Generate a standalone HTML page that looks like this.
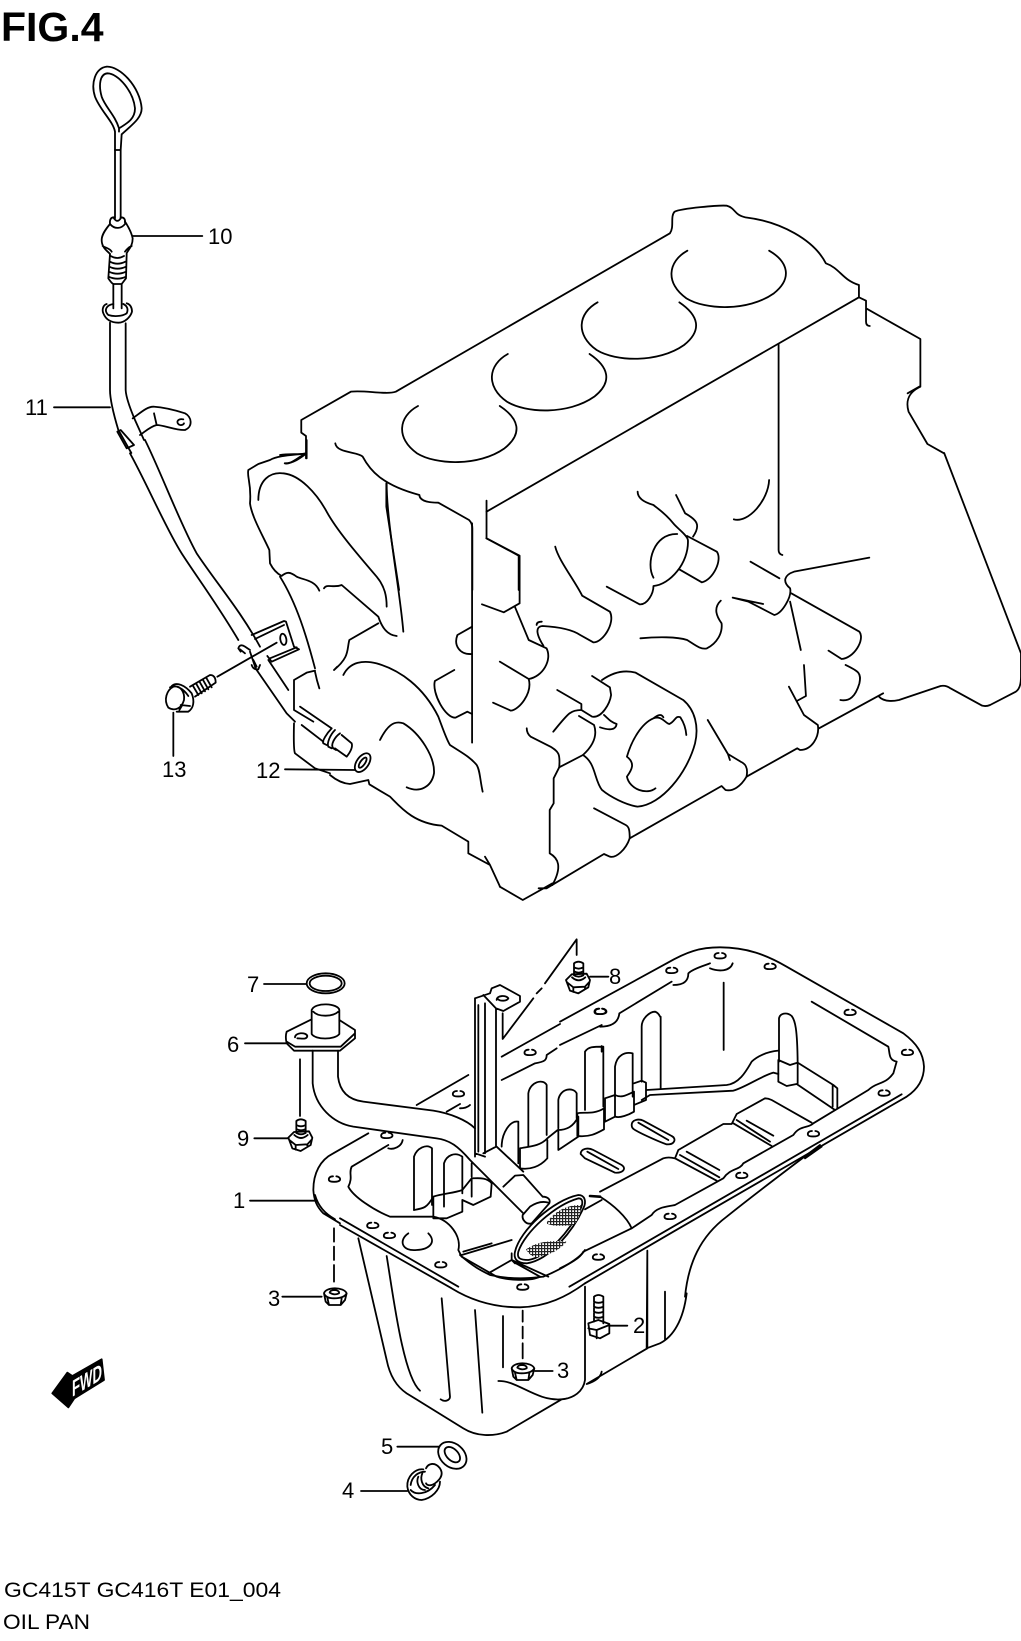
<!DOCTYPE html>
<html><head><meta charset="utf-8"><style>
html,body{margin:0;padding:0;background:#fff}
svg{display:block}
path,ellipse{fill:none;stroke:#000;stroke-width:1.8;vector-effect:non-scaling-stroke;stroke-linecap:round;stroke-linejoin:round}
text{font-family:"Liberation Sans",sans-serif;fill:#000;font-size:22px}
</style></head><body>
<svg width="1021" height="1641" viewBox="0 0 1021 1641" xmlns="http://www.w3.org/2000/svg">
<defs>
<pattern id="m" width="9" height="9" patternUnits="userSpaceOnUse"><rect width="9" height="9" fill="#fff"/><rect width="3.6" height="9" fill="#222"/><rect width="9" height="3.6" fill="#222"/></pattern>
<path id="h" d="M-4 -9C-14 -9 -18 -3 -16 3C-13 9 13 9 17 2C19 -4 12 -9 6 -9"/>
<g id="flb">
<path d="M1062 135V100Q1075 90 1090 100V135M1062 112Q1076 120 1090 112M1062 124Q1076 132 1090 124M1062 136Q1076 144 1090 136"/>
<path d="M1038 150L1055 133L1100 131L1110 150L1105 172L1075 190L1050 182ZM1041 157L1060 172L1095 170L1108 156M1060 172V186M1095 170V178M1056 142Q1076 160 1096 142"/>
</g>
<g id="fln">
<path d="M515 565L520 590L530 600L565 600L578 585L583 565M530 600L525 578M565 600L568 580M515 565Q520 580 545 580Q575 580 583 565M515 565C520 545 575 545 583 565M532 563Q533 555 548 555Q562 557 560 565Q545 572 532 563"/>
</g>
</defs>
<rect width="1021" height="1641" fill="#fff"/>

<!-- dipstick -->
<g transform="translate(0,0) scale(.33333)">
<path d="M345 450V395C340 365 300 330 285 290C272 250 285 205 320 200C360 198 420 260 425 325C425 355 395 375 365 403L362 450"/>
<path d="M357 385C385 368 405 355 405 325C400 275 355 220 322 220C300 222 295 255 305 290C315 320 345 345 357 385L357 395M345 450H362"/>
<path d="M345 450V655M362 450V655"/>
<path d="M330 672Q328 652 342 652M362 652Q377 652 375 668M342 655Q352 670 362 655"/>
<path d="M330 672C315 690 305 705 305 720C305 745 325 755 330 762M375 665C385 680 395 700 398 715C398 740 385 748 380 760M330 672C345 690 365 685 375 672M308 738C320 745 330 745 335 755M395 738C385 742 380 748 375 755"/>
<path d="M330 762L325 835Q335 850 340 852H365L378 835L380 762M332 768Q352 780 372 768M330 785Q352 797 376 785M328 800Q352 812 378 800M327 815Q352 827 378 815M326 830Q352 842 378 830"/>
<path d="M340 852V925M365 852V925"/>
<path d="M320 912C310 915 305 928 310 940C318 960 335 968 355 968C375 968 392 950 396 935C396 922 390 912 380 910M340 912C320 915 310 930 325 945C340 950 365 950 380 940C385 930 383 918 370 912"/>
<path d="M330 968V1170C330 1200 340 1240 355 1290L394 1359M377 970V1170C378 1190 390 1225 405 1260L432 1320"/>
<path d="M352 1295L362 1290L402 1335L380 1345Z"/>
<path d="M398 1255C420 1240 440 1220 460 1220C490 1222 530 1232 555 1240C575 1250 580 1280 555 1290C530 1292 490 1275 470 1275C450 1280 435 1295 420 1305M462 1240L470 1275M550 1258C535 1255 528 1265 535 1272C540 1278 550 1275 552 1270"/>
<path d="M398 708H607M162 1222H330"/>
</g>

<!-- left lower part of block + tube -->
<g transform="translate(130,440) scale(.33333)">
<path d="M45 0C90 90 150 250 200 340C260 430 330 510 390 620M0 40C50 130 110 270 155 340C200 410 260 490 325 600"/>
<path d="M365 585L462 543L468 545L492 620L507 628L425 665L412 648M375 597L462 555M420 655L500 622"/>
<ellipse cx="460" cy="598" rx="9" ry="17" transform="rotate(-10 460 598)"/>
<path d="M530 0V55M530 40C500 45 445 45 420 60L385 72L355 90C350 110 365 130 360 190C365 230 400 290 418 330L420 370C430 390 440 400 455 408C470 395 480 395 500 410C520 420 555 420 568 452M465 70C490 70 510 55 530 40"/>
<path d="M582 445C590 430 610 445 635 435L745 530C755 560 770 585 800 588"/>
<path d="M385 180C385 120 420 95 460 100C510 105 560 160 590 215C620 270 680 340 740 410C765 440 770 470 770 500"/>
<path d="M770 130C770 250 810 450 820 575M745 550L658 600C650 630 660 650 612 690L622 680"/>
<path d="M640 705C660 665 700 660 740 670C810 690 880 740 925 830C940 870 950 900 960 915C990 935 1020 950 1040 975C1050 990 1050 1020 1058 1055"/>
<path d="M450 410C500 490 530 590 555 685M555 695Q560 720 568 745"/>
<path d="M600 1005Q630 1030 660 1032L715 1020L718 1033L780 1070C810 1100 850 1150 935 1157L1015 1205V1240L1080 1275L1110 1340M1065 1250L1080 1275"/>
<path d="M750 900C770 860 790 840 820 850C870 880 915 950 912 1000C905 1040 870 1060 830 1042"/>
</g>

<!-- bolt 13, clip, nipple, washer 12 -->
<g transform="translate(150,610) scale(.33333)">
<path d="M355 150L415 240M320 180L410 310L435 335"/>
<path d="M265 115Q270 100 285 110L300 120M285 130L270 118M265 115L272 125"/>
<path d="M305 165Q310 180 325 178L330 165M310 150L320 170M300 125L318 178"/>
<path d="M70 230C50 240 40 270 55 293C75 305 95 295 102 270C105 245 90 225 70 230M65 228C80 215 105 225 125 250C135 275 130 295 115 305L80 305M97 285L88 300M60 232C75 222 100 235 115 258M92 285L120 288"/>
<path d="M120 230L180 195Q197 195 197 218L135 260M128 226L145 255M138 220L155 250M148 214L165 244M158 208L175 238M168 202L185 232"/>
<path d="M70 308V438M202 200L380 98"/>
<path d="M432 210L470 188L495 182M432 210V300L490 335M432 340Q430 420 435 430L495 475L540 490"/>
<path d="M450 290L545 355M455 345L520 395"/>
<path d="M545 355C530 370 515 395 520 400L530 405M555 360C540 375 530 400 535 410L545 415M570 370C555 380 540 405 550 415L558 420"/>
<path d="M575 375L605 400Q610 415 590 440L555 415"/>
<ellipse cx="638" cy="458" rx="18" ry="32" transform="rotate(35 638 458)"/>
<ellipse cx="638" cy="458" rx="7" ry="18" transform="rotate(35 638 458)"/>
<path d="M405 478L615 480"/>
</g>

<!-- block top -->
<g transform="translate(280,190) scale(.4726,.33333)">
<path d="M55 805V738L45 728V690L150 605C180 600 225 615 245 605L825 130C835 110 825 80 835 65C850 55 930 45 945 47C965 55 960 75 985 82C1060 95 1130 150 1155 220C1185 235 1190 270 1225 285V320"/>
<path d="M437 965L1225 322L1240 332V395Q1240 408 1248 408M1240 355L1355 447V588L1328 610M1355 590C1325 610 1325 640 1330 665L1370 762L1405 790"/>
<path d="M862 182C820 215 815 280 860 325C900 360 990 365 1045 310C1085 265 1075 215 1035 182"/>
<path d="M672 337C630 370 625 435 670 480C710 515 800 520 855 465C895 420 885 375 845 337"/>
<path d="M482 492C440 525 435 590 480 635C520 670 610 675 665 620C705 575 695 530 655 492"/>
<path d="M292 648C250 680 245 745 290 790C330 825 420 830 475 775C515 730 505 685 465 648"/>
<path d="M1055 462V1080Q1055 1092 1063 1095"/>
<path d="M117 760C120 790 165 785 175 800C190 840 215 885 295 915C295 935 320 938 335 938L400 990Q407 1000 407 1015V1200"/>
<path d="M225 880V950L252 1200M437 932V1045L505 1097V1200"/>
<path d="M0 795C20 790 40 795 55 790M10 820C20 825 30 810 55 790"/>
</g>

<!-- block lower right -->
<g transform="translate(400,480) scale(.39604,.33333)">
<path d="M182 130V788"/>
<path d="M218 175L302 227V370L262 397L207 373"/>
<path d="M290 380L325 480L370 505C385 540 360 590 325 597L252 545M325 597C335 640 300 690 280 692L235 668"/>
<path d="M392 200C400 240 440 300 460 347L530 395C545 430 510 490 488 487L455 465C430 445 390 440 360 438C340 440 345 465 362 497M345 435Q345 425 358 425"/>
<path d="M522 320L605 373C625 375 640 340 640 318C680 315 730 250 727 180C725 165 700 145 690 130C670 100 650 85 640 75C610 65 600 50 600 35"/>
<path d="M697 45L720 100C750 120 760 135 740 170M640 293C620 250 640 160 700 162M725 168L800 215C815 240 790 300 762 307L705 268"/>
<path d="M843 118C880 130 930 60 932 0"/>
<path d="M885 245L958 295M1185 233L995 275C970 285 965 305 985 325C990 350 965 400 945 405L880 365L840 353L917 372"/>
<path d="M988 340L1160 455C1175 480 1145 535 1115 537L1082 512M985 365L1012 510M1020 555L1025 648L1002 663"/>
<path d="M982 620L1020 705L1055 735C1060 770 1040 810 1010 810L1003 805L875 890C880 860 870 850 860 845L828 822L777 720M828 822L833 840"/>
<path d="M875 890C860 920 840 935 822 930L812 918L580 1075C580 1050 578 1040 570 1035L490 985"/>
<path d="M580 1075C570 1110 545 1135 530 1130L515 1122L370 1225L350 1225M385 1210L310 1260L252 1220"/>
<path d="M1058 745L1220 640M1208 648C1220 665 1240 665 1260 660L1365 618Q1378 615 1390 625L1470 677Q1480 680 1490 675L1555 635Q1568 625 1568 590V520L1374 -81"/>
<path d="M1125 555C1160 575 1165 580 1160 610C1150 650 1135 665 1112 660"/>
<path d="M607 475C650 470 700 470 725 480C745 495 760 510 775 505C800 490 815 460 812 430C800 410 790 385 810 362"/>
<path d="M397 630L458 672V690L485 710C510 715 530 670 533 645L530 622L485 588"/>
<path d="M510 600C540 575 570 570 595 578L715 660C745 690 755 740 745 790C725 880 660 975 600 980C570 975 530 950 510 930C490 900 495 850 462 825"/>
<path d="M458 690C430 690 425 700 387 755M452 708L490 735C500 770 485 800 462 825L402 862C405 820 400 815 380 800L330 770C320 760 320 750 320 745"/>
<path d="M402 862L388 895V970L378 990V1120C400 1135 410 1160 385 1215"/>
<path d="M515 705C525 715 530 725 547 732C545 750 530 752 505 742"/>
<path d="M665 712C660 700 650 705 640 715C610 730 585 780 573 830C595 850 585 870 573 890C580 930 625 945 645 925M640 715C660 705 670 730 680 732C695 725 695 705 708 712C718 730 722 750 723 765"/>
<path d="M182 440L145 465C135 495 150 525 182 522M137 570L88 603C80 640 115 715 140 713L170 695L182 702"/>
</g>

<!-- oil pan left -->
<g transform="translate(220,930) scale(.33333)">
<ellipse cx="317" cy="160" rx="57" ry="30"/><ellipse cx="317" cy="160" rx="48" ry="23"/>
<path d="M132 162H258M75 340H198M103 625H205M90 812H285M187 1100H305"/>
<path d="M275 268L200 305Q195 320 200 340L222 362H360L405 325V300L358 270M200 335L225 350L362 350L405 310M225 322C225 308 258 305 262 318C260 330 245 325 232 325"/>
<path d="M275 240V312C285 330 345 330 358 312V240C355 220 285 215 275 240ZM280 245C295 262 340 260 355 245"/>
<path d="M240 388V558"/>
<path d="M278 362V460C285 530 340 580 400 590L650 625C690 630 715 650 750 690L910 850M354 362V440C360 490 390 510 430 515L640 542C690 550 740 570 765 595M830 650L910 725M850 770L885 737L910 735L968 800"/>
<path d="M968 800C985 800 992 810 988 820L935 880C920 885 905 870 908 855L930 830C945 820 965 812 985 818"/>
<path d="M885 965C900 900 1000 810 1075 795C1095 795 1100 815 1090 835C1060 900 990 990 920 1000C890 1000 880 985 885 965ZM895 965C915 905 1005 825 1075 805C1090 805 1090 820 1080 840C1050 900 985 980 925 990C900 990 890 985 895 965Z"/>
<path style="fill:url(#m);stroke:none" d="M978 880C1010 835 1050 825 1082 825C1085 850 1070 880 1058 885C1030 888 1000 890 978 880ZM918 958C950 935 990 930 1040 935C1020 960 990 975 950 982C935 980 925 970 918 958Z"/>
<path d="M765 205V680M775 225V665M795 220V670M828 235V650L790 670M765 205L810 190L815 175L840 165L900 198V215L850 243L828 235L790 195M765 670L795 680M830 210C830 195 860 195 865 205C860 215 840 213 835 208"/>
<path d="M848 250V327L940 205M950 190L965 175M975 160L1070 28V75"/>
<use href="#flb"/>
<path d="M1110 140H1165"/>
<use href="#flb" x="-833" y="473"/>
<path d="M590 525L745 435M845 380L1020 282M845 450L945 400C975 395 980 390 980 375L1010 355M680 545L720 522M720 535C735 535 745 530 750 525"/>
<path d="M445 610L340 670C300 690 280 730 280 780C282 810 290 830 310 850L360 880M285 795C295 830 315 850 345 868"/>
<path d="M505 655C520 660 545 650 548 630M505 645L395 710C385 730 400 740 385 770C400 800 460 840 510 860L640 860C690 870 725 920 715 960L725 980L830 1040C860 1050 930 1055 960 1040"/>
<path d="M342 895V935M342 950V990M342 1005V1055"/>
<use href="#fln" x="-203" y="525"/>
<path d="M565 910C535 930 545 965 590 960C630 958 650 935 625 910"/>
<path d="M582 840V680C590 655 620 640 636 655V825M672 830V700C680 675 705 665 727 680V790M755 700V740"/>
<path d="M582 840C610 835 620 835 640 800C670 790 700 790 727 780L755 745C770 745 800 740 815 760L812 800L760 825L727 810V845L680 865H640V800M755 745V800"/>
<path d="M845 650C845 610 870 570 895 575V700M925 650V490C930 455 970 445 980 465V615M1015 595V510C1020 475 1060 470 1070 490V565"/>
<path d="M900 655C920 650 960 650 982 625L1013 600C1040 600 1060 590 1075 560M900 655V715C930 720 960 710 982 685V630M1015 600V660L1075 620V560"/>
<path d="M725 975L875 930M730 965L815 940M805 1030L875 990L885 1000M875 970V990M875 990L985 1040M888 1000L960 1040"/>
<use href="#h" x="930" y="368"/><use href="#h" x="715" y="492"/><use href="#h" x="343" y="748"/><use href="#h" x="500" y="617"/><use href="#h" x="458" y="887"/><use href="#h" x="508" y="917"/><use href="#h" x="662" y="1005"/><use href="#h" x="908" y="1072"/><use href="#h" x="1140" y="245"/>
</g>

<!-- oil pan right -->
<g transform="translate(560,930) scale(.33333)">
<path d="M0 275L320 100C380 65 420 52 480 52C560 52 620 75 680 110L1030 310C1070 340 1090 370 1092 410C1092 450 1070 480 1040 500L340 905L75 1060"/>
<path d="M1025 493L28 1070"/>
<path d="M70 965L215 895L275 855C290 830 325 830 345 825L490 745C510 715 540 720 550 700L700 615C720 585 745 595 760 580L925 480C950 455 975 465 1000 430L1010 395C985 390 990 370 985 350L755 215M70 965C60 985 30 1000 0 1015"/>
<path d="M340 165C375 165 385 150 385 130C400 115 440 105 450 100M450 115C475 125 510 125 518 100M120 290C150 290 175 280 178 250L335 155M0 345L125 285"/>
<use href="#h" x="480" y="78"/><use href="#h" x="335" y="122"/><use href="#h" x="630" y="110"/><use href="#h" x="122" y="245"/><use href="#h" x="870" y="248"/><use href="#h" x="1042" y="368"/><use href="#h" x="972" y="490"/><use href="#h" x="760" y="612"/><use href="#h" x="545" y="737"/><use href="#h" x="330" y="860"/><use href="#h" x="115" y="982"/>
<path d="M245 455V290C245 265 270 245 285 245C300 250 300 265 302 260V475"/>
<path d="M260 480L500 465C540 460 560 420 575 395C590 380 620 365 655 362M245 510L270 495L520 482C560 470 600 440 640 428L655 432"/>
<path d="M657 395V265C660 250 680 245 695 258C705 270 712 295 713 400M655 390L690 405L713 398L820 465L832 475V535M655 455L680 468L710 462L825 540M655 390V455M818 465V530M713 400V460"/>
<path d="M491 158V360"/>
<path d="M165 500V410C170 375 195 365 218 370V500M75 540V365C85 350 100 350 130 350V530M125 348V365"/>
<path d="M52 550C70 545 100 555 132 535L132 598C110 610 90 622 52 618ZM135 505L165 495C185 505 200 495 222 485V545C205 555 180 565 165 560L135 575V505M165 495V560M222 460L245 452L258 458V510L222 525"/>
<path d="M215 585C215 570 235 565 250 572L335 618C350 625 345 645 320 643C310 640 250 615 225 600Q215 595 215 585ZM235 578L325 630M62 672C62 655 85 652 100 660L185 705C200 715 190 730 165 728L75 685ZM82 665L175 717"/>
<path d="M120 785L310 685Q325 680 345 685M345 685L355 660L490 582H515L530 552L615 505Q625 505 635 510L755 578M345 685L470 752M360 675L478 742M380 665L478 720M520 580L635 648M530 570L630 635M560 572L640 617"/>
<path d="M120 800C160 825 200 860 215 895M75 838L125 810"/>
<path d="M90 798L120 800" style="stroke-width:2.6"/>
<path d="M780 645C680 720 600 780 500 860C420 920 385 1000 375 1100M735 685L785 650"/>
</g>

<!-- pan bottom -->
<g transform="translate(340,1180) scale(.33333)">
<path d="M0 115L355 320M0 135L335 325C400 365 470 382 540 382C620 380 680 350 735 310"/>
<path d="M360 225C400 260 420 270 450 285C520 300 570 295 610 290M610 290C660 270 720 235 735 210"/>
<path d="M1040 340C1030 420 1000 470 960 490L920 505L922 212V505L740 612Q780 600 785 575M975 335V480"/>
<path d="M735 320V600C730 635 700 655 665 658C590 665 530 600 475 603M665 658L500 755C460 770 410 770 370 745L200 640C170 620 150 590 140 540L55 175"/>
<path d="M140 228C160 350 190 590 240 632M305 355L330 650C330 660 315 668 302 658M405 390L427 698M489 408V562"/>
<path d="M548 392V425M548 440V475M548 490V535"/>
<use href="#fln"/>
<path d="M585 573H638"/>
<path d="M762 350Q775 340 790 350V430M762 350V425M762 365Q775 372 790 365M762 380Q775 387 790 380M762 395Q775 402 790 395M762 410Q775 417 790 410M745 430L775 420L808 432V460L780 475L750 465ZM745 445L770 450V475M770 450L808 435M808 437H862"/>
</g>

<!-- washer 5, plug 4 -->
<g transform="translate(390,1420) scale(.33333)">
<ellipse cx="187" cy="106" rx="47" ry="35" transform="rotate(40 187 106)"/>
<ellipse cx="187" cy="104" rx="28" ry="17" transform="rotate(45 187 104)"/>
<path d="M22 80H147M-87 213H52"/>
<path d="M52 200C50 170 75 145 100 148M52 200C55 225 75 240 95 240C125 235 150 210 150 185M62 195C65 170 85 155 105 155M62 210C75 225 110 225 135 195M85 170C78 185 85 210 105 210M97 160C90 175 95 200 115 205"/>
<path d="M108 145C115 130 135 125 150 145C160 160 155 175 135 190C120 200 110 195 108 190"/>
</g>

<!-- FWD arrow -->
<g transform="translate(40,1350) scale(.33333)">
<path d="M37 130L82 68L97 78L185 28L192 90L103 145L85 172Z" style="fill:#000"/>
</g>

<text x="1" y="41" style="font-size:41px;font-weight:bold">FIG.4</text>
<text x="208" y="244">10</text>
<text x="25" y="415">11</text>
<text x="256" y="778">12</text>
<text x="162" y="777">13</text>
<text x="247" y="992">7</text>
<text x="227" y="1052">6</text>
<text x="237" y="1146">9</text>
<text x="233" y="1208">1</text>
<text x="268" y="1306">3</text>
<text x="557" y="1378">3</text>
<text x="609" y="984">8</text>
<text x="633" y="1333">2</text>
<text x="381" y="1454">5</text>
<text x="342" y="1498">4</text>
<text transform="translate(72,1397) skewY(-31)" textLength="30" lengthAdjust="spacingAndGlyphs" style="font-size:23px;font-weight:bold;fill:#fff">FWD</text>
<text x="4" y="1597" textLength="277" lengthAdjust="spacingAndGlyphs" style="font-size:21px">GC415T GC416T E01_004</text>
<text x="3" y="1629" textLength="87" lengthAdjust="spacingAndGlyphs" style="font-size:21px">OIL PAN</text>
</svg>
</body></html>
